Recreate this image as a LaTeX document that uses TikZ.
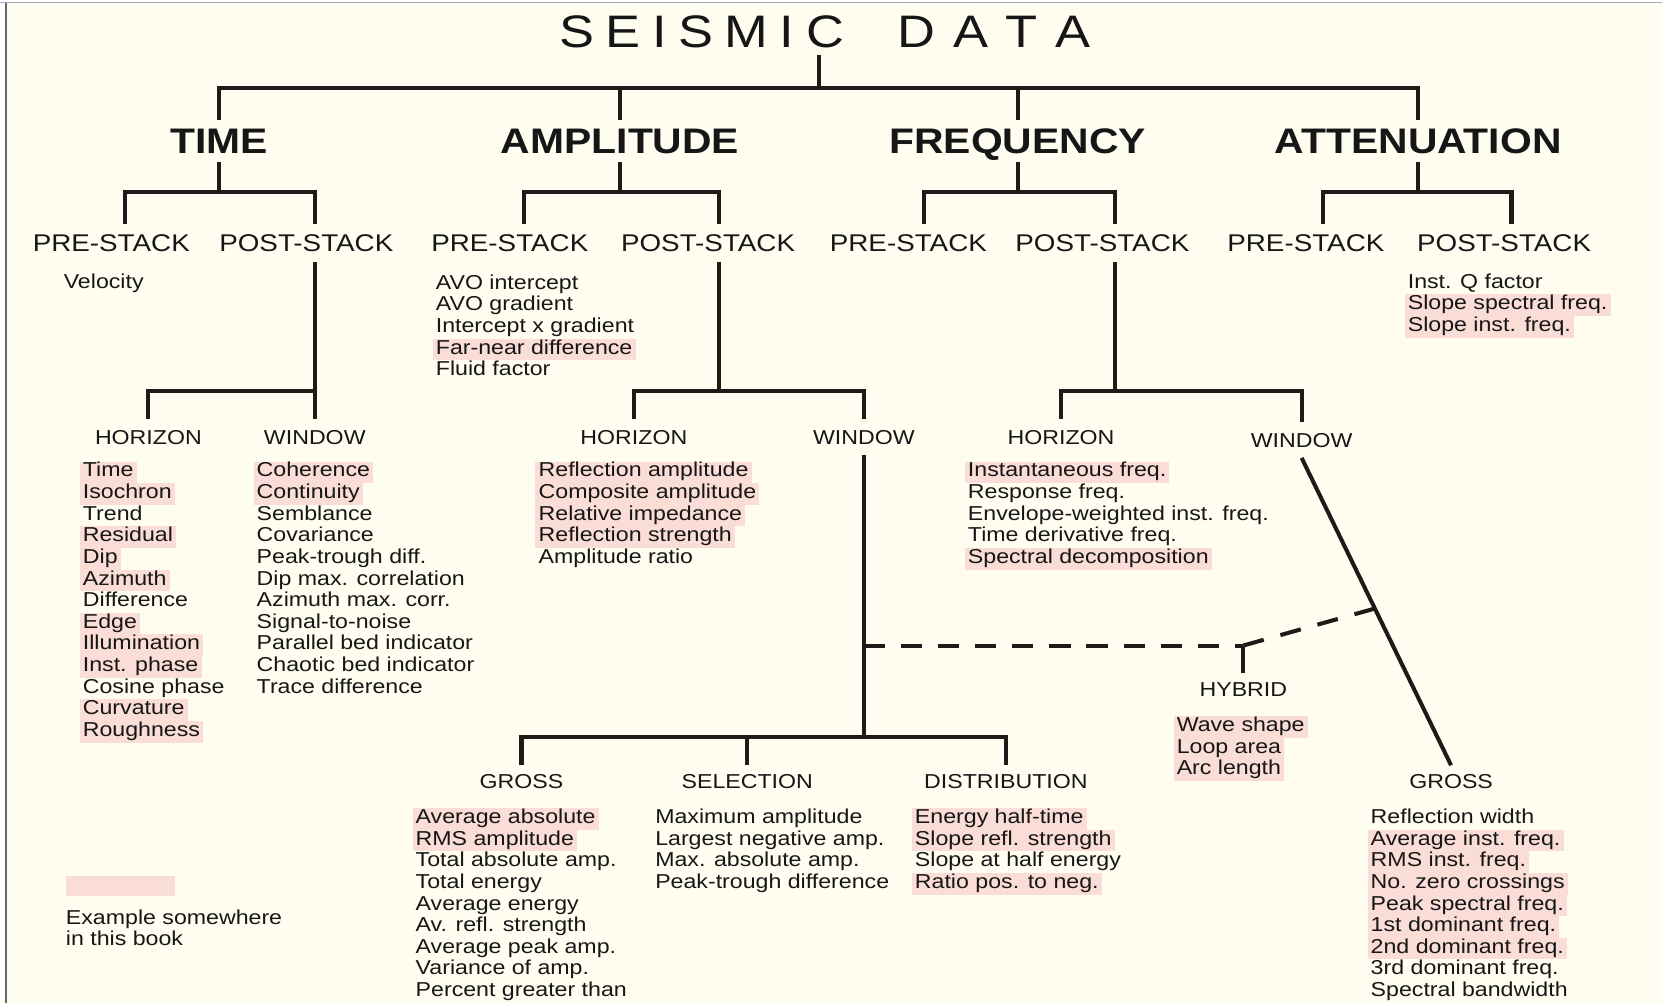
\documentclass[tikz,border=0pt]{standalone}
\usepackage{fontspec}
\setmainfont{Liberation Sans}
\newfontfamily\lsans{Liberation Sans}[FakeStretch=1.15]
\usetikzlibrary{calc}
\definecolor{bgc}{HTML}{FFFDF0}
\definecolor{hlc}{HTML}{FADDD6}
\definecolor{linec}{HTML}{1E1A17}
\definecolor{txtc}{HTML}{161616}
\definecolor{framec}{HTML}{A3ABBD}
\newcommand\itemfont{\lsans\fontsize{19}{20.4}\selectfont}
\newcommand\attlist[4]{%
  \foreach \t/\h [count=\i] in {#4}{%
    \ifnum\h=1
      \node[item1] (#1-\i) at ({#2-3},{#3+20.4*(\i-1)}) {\t};
    \else
      \node[item0] (#1-\i) at ({#2-3},{#3+20.4*(\i-1)}) {\t};
    \fi
  }}
\begin{document}
\begin{tikzpicture}[x=1pt,y=-1pt,
  conn/.style={draw=linec,line width=3.8pt,line join=miter},
  conndash/.style={conn,dash pattern=on 20pt off 15pt},
  connslant/.style={conn,dash pattern=on 20pt off 16.3pt},
  item0/.style={font=\itemfont,text=txtc,anchor=base west,inner xsep=3pt,inner ysep=1pt,text height=13.6pt,text depth=4.8pt},
  item1/.style={item0,fill=hlc},
  ttlstyle/.style={font=\lsans\fontsize{43}{48}\selectfont,text=txtc,anchor=base,inner sep=0pt,text height=31pt,text depth=0pt,outer ysep=7pt},
  lvlone/.style={font=\lsans\bfseries\fontsize{33.5}{36}\selectfont,text=txtc,anchor=base,inner sep=0pt,text height=24pt,text depth=0pt,outer ysep=8pt},
  lvltwo/.style={font=\lsans\fontsize{22.8}{24}\selectfont,text=txtc,anchor=base,inner sep=0pt,text height=16pt,text depth=0pt,outer ysep=10pt},
  sublab/.style={font=\itemfont,text=txtc,anchor=base,inner sep=0pt,text height=14pt,text depth=0pt,outer ysep=10pt},
  botlab/.style={sublab,outer ysep=8pt}]
\useasboundingbox (0,0) rectangle (1568,946);
\fill[white] (0,0) rectangle (1568,946);
\fill[bgc] (5,3) rectangle (1568,946);
\draw[framec,line width=1.4pt] (0,2.2) -- (1568,2.2);
\draw[black!60,line width=1.6pt] (5.5,3) -- (5.5,946);

% ---------- title and first level ----------
\node[ttlstyle] (title) at (778,45) {S\kern10.9pt E\kern10.9pt I\kern10.9pt S\kern10.9pt M\kern10.9pt I\kern10.9pt C\kern51pt D\kern16.5pt A\kern16.5pt T\kern16.5pt A};
\node[lvlone] (time) at (207,145) {TIME};
\node[lvlone] (amp) at (585,145) {AMPLITUDE};
\node[lvlone] (freq) at (960,145) {FREQUENCY};
\node[lvlone] (att) at (1338,145) {ATTENUATION};
\coordinate (j0) at (773,83);
\draw[conn] (title.south -| j0) -- (j0);
\draw[conn] (time.north) -- (time.north |- j0) -- (att.north |- j0) -- (att.north);
\draw[conn] (amp.north) -- (amp.north |- j0);
\draw[conn] (freq.north) -- (freq.north |- j0);

% ---------- pre / post stack ----------
\node[lvltwo] (tpre) at (105,237) {PRE-STACK};
\node[lvltwo] (tpost) at (289,237) {POST-STACK};
\node[lvltwo] (apre) at (481,237) {PRE-STACK};
\node[lvltwo] (apost) at (668,237) {POST-STACK};
\node[lvltwo] (fpre) at (857,237) {PRE-STACK};
\node[lvltwo] (fpost) at (1040,237) {POST-STACK};
\node[lvltwo] (atpre) at (1232,237) {PRE-STACK};
\node[lvltwo] (atpost) at (1419,237) {POST-STACK};
\coordinate (y181) at (0,181);
\coordinate (y369) at (0,369);
\coordinate (y695) at (0,695);
\coordinate (y609) at (0,609);
\coordinate (tpreD) at (118,211);  \coordinate (tpostD) at (297,211);
\coordinate (apreD) at (494,211);  \coordinate (apostD) at (678,211);
\coordinate (fpreD) at (872,211);  \coordinate (fpostD) at (1052,211);
\coordinate (atpreD) at (1248,211); \coordinate (atpostD) at (1426,211);
\coordinate (tpostB) at (297,247); \coordinate (apostB) at (678,247);
\coordinate (fpostB) at (1052,247);
\foreach \p/\a/\b in {time/tpreD/tpostD, amp/apreD/apostD, freq/fpreD/fpostD, att/atpreD/atpostD}{
  \draw[conn] (\p.south) -- (\p.south |- y181);
  \draw[conn] (\a) -- (\a |- y181) -- (\b |- y181) -- (\b);
}

% ---------- horizon / window ----------
\node[sublab] (thor) at (140,419) {HORIZON};
\node[sublab] (twin) at (297,419) {WINDOW};
\node[sublab] (ahor) at (598,419) {HORIZON};
\node[sublab] (awin) at (815,419) {WINDOW};
\node[sublab] (fhor) at (1001,419) {HORIZON};
\node[sublab] (fwin) at (1228,422) {WINDOW};
\draw[conn] (tpostB) -- (twin.north);
\draw[conn] (tpostB |- y369) -| (thor.north);
\draw[conn] (apostB) -- (apostB |- y369);
\draw[conn] (ahor.north) |- (awin.north |- y369) -- (awin.north);
\draw[conn] (fpostB) -- (fpostB |- y369);
\draw[conn] (fhor.north) |- (fwin.north |- y369) -- (fwin.north);

% ---------- window subdivisions ----------
\node[botlab] (agross) at (492,744) {GROSS};
\node[botlab] (asel) at (705,744) {SELECTION};
\node[botlab] (adist) at (949,744) {DISTRIBUTION};
\node[botlab] (fgross) at (1369,744) {GROSS};
\node[botlab] (hybrid) at (1173,657) {HYBRID};
\draw[conn] (awin.south) -- (awin.south |- y695);
\draw[conn] (agross.north) |- (adist.north |- y695) -- (adist.north);
\draw[conn] (asel.north) -- (asel.north |- y695);
\draw[conn] (fwin.south) -- (fgross.north);
\coordinate (hj) at (hybrid.north |- y609);
\coordinate (dj) at ($(fwin.south)!0.49!(fgross.north)$);
\draw[conndash] (awin.south |- hj) -- (hj);
\draw[connslant] (dj) -- (hj);
\draw[conn] (hj) -- (hybrid.north);

% ---------- attribute lists ----------
\attlist{vel}{60}{272}{Velocity/0}
\attlist{apl}{411}{273}{AVO intercept/0, AVO gradient/0, Intercept x gradient/0, Far-near difference/1, Fluid factor/0}
\attlist{atl}{1328}{272}{Inst. Q factor/0, Slope spectral freq./1, Slope inst. freq./1}
\attlist{thl}{78}{450}{Time/1, Isochron/1, Trend/0, Residual/1, Dip/1, Azimuth/1, Difference/0, Edge/1, Illumination/1, Inst. phase/1, Cosine phase/0, Curvature/1, Roughness/1}
\attlist{twl}{242}{450}{Coherence/1, Continuity/1, Semblance/0, Covariance/0, Peak-trough diff./0, Dip max. correlation/0, Azimuth max. corr./0, Signal-to-noise/0, Parallel bed indicator/0, Chaotic bed indicator/0, Trace difference/0}
\attlist{ahl}{508}{450}{Reflection amplitude/1, Composite amplitude/1, Relative impedance/1, Reflection strength/1, Amplitude ratio/0}
\attlist{fhl}{913}{450}{Instantaneous freq./1, Response freq./0, Envelope-weighted inst. freq./0, Time derivative freq./0, Spectral decomposition/1}
\attlist{hyl}{1110}{690}{Wave shape/1, Loop area/1, Arc length/1}
\attlist{agl}{392}{777}{Average absolute/1, RMS amplitude/1, Total absolute amp./0, Total energy/0, Average energy/0, Av. refl. strength/0, Average peak amp./0, Variance of amp./0, Percent greater than/0}
\attlist{asl}{618}{777}{Maximum amplitude/0, Largest negative amp./0, Max. absolute amp./0, Peak-trough difference/0}
\attlist{adl}{863}{777}{Energy half-time/1, Slope refl. strength/1, Slope at half energy/0, Ratio pos. to neg./1}
\attlist{fgl}{1293}{777}{Reflection width/0, Average inst. freq./1, RMS inst. freq./1, No. zero crossings/1, Peak spectral freq./1, 1st dominant freq./1, 2nd dominant freq./1, 3rd dominant freq./0, Spectral bandwidth/0}

% ---------- legend ----------
\node[fill=hlc,minimum width=103pt,minimum height=19pt,inner sep=0pt,anchor=north west] (legbox) at (62,826) {};
\node[item0] (leg1) at (59,872) {Example somewhere};
\node[item0] (leg2) at (59,892) {in this book};
\end{tikzpicture}
\end{document}
